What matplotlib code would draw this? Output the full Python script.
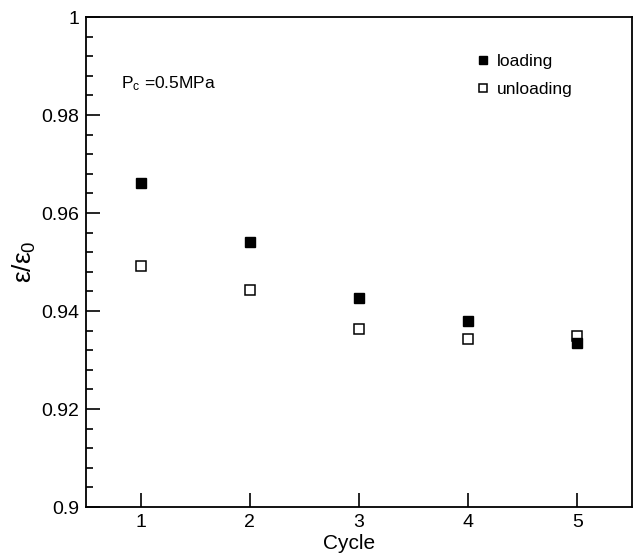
import matplotlib
matplotlib.use("Agg")
import matplotlib.pyplot as plt
from matplotlib.ticker import MultipleLocator

plt.rcParams['font.family'] = ['Liberation Sans', 'DejaVu Sans']
plt.rcParams['mathtext.fontset'] = 'custom'
plt.rcParams['mathtext.rm'] = 'Liberation Sans'
plt.rcParams['mathtext.it'] = 'Liberation Sans'

cycles = [1, 2, 3, 4, 5]
loading = [0.9661, 0.9541, 0.9427, 0.9380, 0.9335]
unloading = [0.9492, 0.9443, 0.9363, 0.9342, 0.9350]

fig = plt.figure(figsize=(6.34, 5.53), dpi=100)
ax = fig.add_axes([86/634, 1-507/553, (632-86)/634, (507-17)/553])

ax.plot(cycles, unloading, 's', ms=7, mfc='white', mec='black', mew=1.1,
        linestyle='none', label='unloading', zorder=3)
ax.plot(cycles, loading, 's', ms=7, mfc='black', mec='black',
        linestyle='none', label='loading', zorder=4)

ax.set_xlim(0.5, 5.5)
ax.set_ylim(0.9, 1.0)
ax.xaxis.set_major_locator(MultipleLocator(1))
ax.yaxis.set_minor_locator(MultipleLocator(0.004))
ax.set_yticks([0.9, 0.92, 0.94, 0.96, 0.98, 1.0])
ax.set_yticklabels(['0.9', '0.92', '0.94', '0.96', '0.98', '1'])
ax.tick_params(axis='both', which='both', direction='in', top=False, right=False,
               labelsize=14, width=1.2)
ax.tick_params(axis='both', which='major', length=10, pad=5)
ax.tick_params(axis='y', which='minor', length=5)
for s in ax.spines.values():
    s.set_linewidth(1.3)

ax.set_xlabel('Cycle', fontsize=15)
ax.xaxis.set_label_coords(0.482, -0.055)
ax.set_ylabel(r'$\varepsilon/\varepsilon_0$', fontsize=19)
ax.yaxis.set_label_coords(-0.088, 0.5)

ax.text(0.065, 0.855, r'P$_\mathrm{c}$ =0.5MPa', transform=ax.transAxes, fontsize=12.5)

h, l = ax.get_legend_handles_labels()
leg = ax.legend([h[1], h[0]], [l[1], l[0]], loc='upper right',
                bbox_to_anchor=(0.92, 0.957), frameon=False, fontsize=12.5,
                handlelength=0.7, handletextpad=0.45, labelspacing=0.75,
                markerscale=0.9)

fig.savefig('out.png', dpi=100)
